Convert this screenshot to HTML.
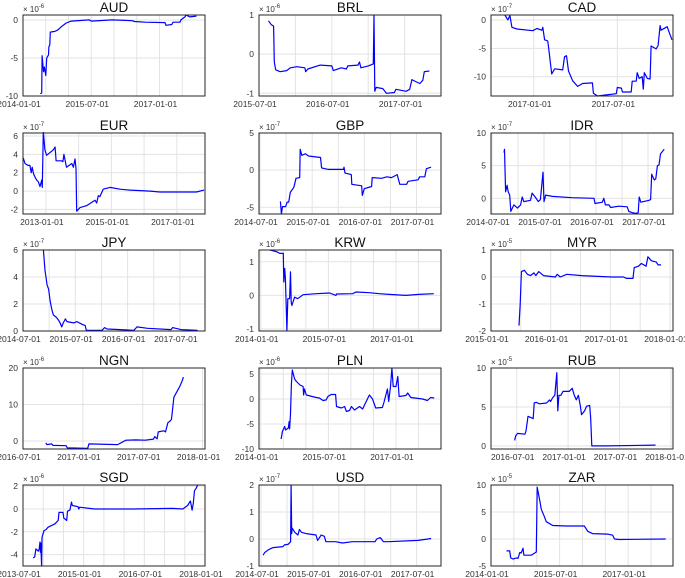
<!DOCTYPE html>
<html><head><meta charset="utf-8">
<style>
html,body{margin:0;padding:0;background:#fff;}
svg{display:block;font-family:"Liberation Sans",sans-serif;}
</style></head>
<body>
<svg id="fig" width="685" height="578" viewBox="0 0 685 578" xmlns="http://www.w3.org/2000/svg"></svg>
<script>
// ---- data (decimal years, values in units of 10^exp) ----
const audX=[2014.38,2014.41,2014.42,2014.45,2014.47,2014.50,2014.52,2014.56,2014.57,2014.59,2014.60,2014.70,2014.77,2014.84,2014.95,2015.06,2015.46,2015.50,2015.96,2016.40,2016.45,2016.69,2017.12,2017.14,2017.27,2017.30,2017.45,2017.47,2017.56,2017.58,2017.67,2017.81];
const audY=[-9.7,-9.6,-4.7,-6.8,-6.2,-7.3,-5.0,-4.6,-3.5,-3.3,-1.6,-1.5,-1.3,-0.9,-0.4,-0.15,0.0,-0.15,0.0,-0.1,-0.2,-0.3,-0.35,-0.7,-0.6,-0.3,-0.3,0.0,0.4,0.65,0.4,0.5];
const brlX=[2015.63,2015.65,2015.67,2015.70,2015.71,2015.73,2015.79,2015.88,2015.93,2016.02,2016.13,2016.14,2016.17,2016.34,2016.50,2016.52,2016.63,2016.70,2016.72,2016.86,2016.88,2016.90,2017.00,2017.07,2017.08,2017.09,2017.11,2017.20,2017.25,2017.36,2017.38,2017.52,2017.57,2017.60,2017.65,2017.71,2017.75,2017.77,2017.84];
const brlY=[0.85,0.8,0.75,0.72,-0.2,-0.4,-0.45,-0.42,-0.35,-0.32,-0.35,-0.45,-0.38,-0.28,-0.3,-0.42,-0.35,-0.38,-0.3,-0.28,-0.2,-0.35,-0.3,-0.25,1.0,-0.95,-0.85,-0.88,-1.0,-0.98,-0.9,-0.95,-0.9,-0.65,-0.7,-0.75,-0.67,-0.45,-0.43];
const cadX=[2016.827,2016.845,2016.857,2016.869,2016.899,2016.994,2017.018,2017.048,2017.054,2017.065,2017.083,2017.089,2017.107,2017.125,2017.173,2017.184,2017.196,2017.208,2017.232,2017.262,2017.292,2017.351,2017.357,2017.381,2017.435,2017.494,2017.500,2017.524,2017.530,2017.583,2017.589,2017.613,2017.619,2017.631,2017.649,2017.655,2017.661,2017.679,2017.696,2017.702,2017.732,2017.744,2017.756,2017.762,2017.798,2017.810,2017.827];
const cadY=[0.87,0,0.8,-1.3,-1.6,-1.9,-1.5,-1.8,-1.3,-3.5,-3.7,-5,-9.5,-8.6,-8.8,-6.5,-6.3,-9,-10.7,-11.7,-11.2,-11.1,-12.9,-13.4,-13.2,-13,-11.9,-12,-12.7,-12.7,-10.8,-10.8,-9.3,-10.3,-10,-12.2,-9.3,-10.3,-10.4,-4.6,-5.1,-4.5,-1,-1.8,-1.2,-2.2,-3.5];
const eurX=[2012.31,2012.36,2012.45,2012.51,2012.55,2012.58,2012.62,2012.67,2012.72,2012.77,2012.82,2012.87,2012.89,2012.92,2012.97,2013.02,2013.23,2013.28,2013.31,2013.48,2013.52,2013.55,2013.63,2013.79,2013.84,2013.89,2013.92,2013.94,2014.04,2014.24,2014.50,2014.55,2014.60,2014.65,2014.75,2014.96,2015.26,2015.57,2016.18,2016.48,2017.19,2017.60,2017.83];
const eurY=[3.6,3.0,2.8,2.8,2.0,2.6,1.9,1.5,1.2,1.0,0.5,1.2,0.4,6.5,4.5,3.9,4.5,4.8,3.3,3.3,3.2,4.0,2.6,3.0,2.6,3.5,2.5,-2.2,-1.8,-1.6,-1.0,-1.3,-0.5,-0.6,0.2,0.4,0.2,0.1,0.0,-0.1,-0.1,-0.1,0.1];
const gbpX=[2014.89,2014.91,2014.93,2014.99,2015.02,2015.05,2015.08,2015.15,2015.19,2015.26,2015.27,2015.30,2015.37,2015.43,2015.66,2015.68,2015.81,2016.10,2016.11,2016.13,2016.25,2016.26,2016.45,2016.46,2016.50,2016.64,2016.65,2016.83,2016.93,2017.02,2017.13,2017.18,2017.31,2017.34,2017.53,2017.56,2017.66,2017.69,2017.78];
const gbpY=[-4.2,-5.9,-4.9,-4.9,-4.3,-4.3,-3.0,-2.3,-1.1,-1.0,2.8,2.0,2.2,1.9,1.7,0.3,0.1,0.1,0.4,-0.4,-0.6,-1.9,-2.1,-3.4,-2.5,-2.2,-1.0,-1.1,-0.9,-1.0,-0.6,-1.9,-1.9,-1.5,-1.3,-0.9,-0.9,0.2,0.4];
const idrX=[2014.73,2014.74,2014.76,2014.79,2014.81,2014.84,2014.86,2014.92,2014.99,2015.05,2015.08,2015.11,2015.24,2015.27,2015.33,2015.39,2015.43,2015.48,2015.50,2015.53,2015.66,2016.04,2016.46,2016.48,2016.62,2016.65,2016.68,2016.75,2016.78,2016.94,2017.10,2017.13,2017.20,2017.26,2017.31,2017.33,2017.36,2017.52,2017.55,2017.57,2017.62,2017.65,2017.68,2017.71,2017.74,2017.81];
const idrY=[7.0,7.5,1.0,2.0,1.0,0.5,-2.0,-1.0,-1.5,-1.0,0.2,-0.5,-0.3,0.8,0.2,-0.5,-0.2,4.0,-0.5,0.5,0.3,0.1,0.0,-0.8,-0.6,0.0,-1.0,-1.0,-1.4,-1.2,-1.3,-2.0,-2.2,-2.3,-2.2,0.2,-0.6,-0.3,-0.2,3.7,2.8,3.0,5.0,5.1,6.8,7.5];
const jpyX=[2014.89,2014.92,2014.96,2014.99,2015.02,2015.05,2015.08,2015.14,2015.18,2015.21,2015.24,2015.27,2015.31,2015.34,2015.47,2015.53,2015.63,2015.69,2015.71,2016.01,2016.06,2016.11,2016.62,2016.68,2016.88,2017.33,2017.36,2017.52,2017.84];
const jpyY=[6.0,4.5,3.4,3.1,2.2,1.6,1.2,1.0,0.8,0.6,0.3,0.6,0.9,0.7,0.6,0.7,0.5,0.4,0.05,0.05,0.25,0.15,0.05,0.3,0.2,0.1,0.25,0.1,0.05];
const krwX=[2014.20,2014.35,2014.42,2014.50,2014.51,2014.53,2014.545,2014.57,2014.58,2014.60,2014.64,2014.66,2014.675,2014.69,2014.75,2014.82,2014.94,2015.23,2015.53,2015.67,2015.68,2016.04,2016.11,2016.41,2016.63,2016.85,2017.22,2017.51,2017.84];
const krwY=[1.35,1.3,1.25,1.25,0.4,0.8,0.5,-0.6,-1.06,-0.1,-0.1,0.7,-0.2,-0.3,-0.05,-0.1,0.02,0.05,0.07,0.0,0.04,0.05,0.1,0.08,0.05,0.03,0.0,0.03,0.05];
const myrX=[2015.47,2015.49,2015.51,2015.56,2015.61,2015.66,2015.72,2015.75,2015.80,2015.88,2016.08,2016.11,2016.16,2016.27,2016.52,2017.02,2017.22,2017.27,2017.38,2017.40,2017.47,2017.52,2017.60,2017.63,2017.69,2017.77,2017.80,2017.85];
const myrY=[-1.8,-1.0,0.2,0.25,0.1,0.05,0.15,0.05,0.2,0.05,0.0,0.1,0.0,0.1,0.05,0.0,0.0,-0.05,-0.05,0.35,0.4,0.5,0.4,0.75,0.6,0.55,0.45,0.45];
const ngnX=[2016.69,2016.70,2016.74,2016.75,2016.86,2016.87,2017.04,2017.05,2017.29,2017.36,2017.44,2017.52,2017.59,2017.60,2017.62,2017.63,2017.675,2017.69,2017.71,2017.73,2017.74,2017.76,2017.785,2017.81,2017.83,2017.84];
const ngnY=[-0.5,-1.0,-0.8,-1.2,-1.3,-1.9,-2.0,-0.8,-1.0,0.2,0.3,0.2,0.5,1.2,0.6,2.5,2.8,2.5,5.0,5.5,6.0,12,13.5,15,16.5,17.5];
const plnX=[2014.45,2014.48,2014.53,2014.55,2014.61,2014.63,2014.64,2014.66,2014.68,2014.70,2014.75,2014.79,2014.87,2014.94,2014.95,2014.97,2015.01,2015.23,2015.30,2015.38,2015.45,2015.49,2015.56,2015.66,2015.68,2015.79,2015.86,2015.90,2015.97,2016.01,2016.08,2016.19,2016.26,2016.34,2016.41,2016.48,2016.55,2016.70,2016.74,2016.81,2016.84,2016.88,2016.91,2016.94,2017.00,2017.04,2017.07,2017.22,2017.26,2017.33,2017.59,2017.70,2017.77,2017.85];
const plnY=[-8,-6.5,-5.5,-6.2,-5.8,-4.5,-6,-3,3,5.8,4,3.5,2.8,2.5,0.8,2.0,0.8,0.3,0.2,-0.3,-0.2,0.5,0.9,0.9,-1.5,-1.8,-1.5,-2.5,-2.3,-1.5,-2.2,-1.5,-2.0,-0.5,0.8,0,-1.8,-1.7,-0.5,2.0,-0.5,2.5,6.2,2.5,2.5,4.5,0.5,0.7,1.2,0.3,0.0,-0.3,0.3,0.2];
const rubX=[2016.48,2016.49,2016.51,2016.58,2016.59,2016.61,2016.66,2016.67,2016.69,2016.72,2016.79,2016.82,2016.83,2016.85,2016.87,2016.89,2016.90,2016.91,2016.93,2016.95,2017.01,2017.04,2017.06,2017.08,2017.10,2017.12,2017.13,2017.16,2017.18,2017.21,2017.22,2017.23,2017.37,2017.85];
const rubY=[0.7,1.3,1.6,1.5,1.9,3.8,3.5,5.5,5.6,5.4,5.5,5.9,5.7,6.2,6.5,9.4,4.5,6.5,6.5,7.0,7.0,7.4,6.5,5.9,6.5,5.0,4.0,4.5,5.1,5.2,3.5,0.0,0.0,0.1];
const sgdX=[2013.75,2013.79,2013.82,2013.88,2013.90,2013.92,2013.93,2013.94,2013.96,2013.97,2014.02,2014.07,2014.12,2014.29,2014.37,2014.39,2014.49,2014.51,2014.58,2014.60,2014.66,2014.70,2014.72,2014.86,2014.88,2014.90,2015.27,2016.22,2017.20,2017.45,2017.57,2017.64,2017.68,2017.71,2017.74,2017.78,2017.82];
const sgdY=[-4.3,-4.2,-3.5,-3.7,-3.5,-2.9,-3.8,-3.0,-5.0,-2.5,-1.9,-1.8,-1.6,-1.3,-1.0,-0.3,-0.3,-0.8,-1.0,-0.2,-0.1,0.6,0.3,0.2,0.0,0.15,0.0,0.0,0.05,0.0,0.3,0.7,-0.1,0.5,1.6,1.8,2.1];
const usdX=[2014.54,2014.57,2014.64,2014.73,2014.92,2014.95,2015.02,2015.07,2015.08,2015.09,2015.10,2015.15,2015.21,2015.24,2015.28,2015.37,2015.56,2015.59,2015.66,2015.72,2015.75,2015.94,2016.07,2016.26,2016.70,2016.73,2016.80,2016.86,2016.96,2017.53,2017.72,2017.78];
const usdY=[-0.6,-0.5,-0.4,-0.32,-0.28,-0.22,-0.2,-0.1,2.0,0.2,0.4,0.25,0.15,0.35,0.25,0.2,0.15,-0.05,0.15,0.1,-0.1,-0.1,-0.15,-0.1,-0.1,0.0,0.05,-0.1,-0.1,-0.05,0.0,0.02];
const zarX=[2014.34,2014.41,2014.43,2014.48,2014.56,2014.59,2014.63,2014.66,2014.70,2014.72,2014.88,2014.99,2015.01,2015.07,2015.10,2015.15,2015.21,2015.35,2015.65,2016.04,2016.12,2016.22,2016.55,2016.66,2016.70,2016.80,2017.82];
const zarY=[-2.2,-2.2,-3.5,-3.7,-3.5,-3.6,-2.5,-2.6,-1.7,-3.0,-3.0,-2.4,9.6,7.0,5.5,4.5,3.2,2.5,2.4,2.4,1.4,1.0,0.9,0.7,0.0,-0.1,0.0];

// ---- panel definitions ----
const panels=[
 {n:'AUD',c:0,r:0,x:audX,y:audY,xr:[2014.0,2018.0],yr:[-10,0.65],yt:[-10,-5,0],xl:[2014.0,2015.5,2017.0],g:0.5,e:'-6'},
 {n:'BRL',c:1,r:0,x:brlX,y:brlY,xr:[2015.5,2018.0],yr:[-1.07,1.0],yt:[-1,0,1],xl:[2015.5,2016.5,2017.5],g:0.5,e:'-6'},
 {n:'CAD',c:2,r:0,x:cadX,y:cadY,xr:[2016.744,2017.833],yr:[-13.4,0.87],yt:[-10,-5,0],xl:[2017.0,2017.5],g:0.5,e:'-7'},
 {n:'EUR',c:0,r:1,x:eurX,y:eurY,xr:[2012.30,2017.86],yr:[-2.5,6.33],yt:[-2,0,2,4,6],xl:[2013.0,2015.0,2017.0],g:1,e:'-7'},
 {n:'GBP',c:1,r:1,x:gbpX,y:gbpY,xr:[2014.48,2017.97],yr:[-5.9,5.0],yt:[-5,0,5],xl:[2014.5,2015.5,2016.5,2017.5],g:0.5,e:'-7'},
 {n:'IDR',c:2,r:1,x:idrX,y:idrY,xr:[2014.48,2017.98],yr:[-2.4,10],yt:[0,5,10],xl:[2014.5,2015.5,2016.5,2017.5],g:0.5,e:'-7'},
 {n:'JPY',c:0,r:2,x:jpyX,y:jpyY,xr:[2014.5,2017.98],yr:[0,6],yt:[0,2,4,6],xl:[2014.5,2015.5,2016.5,2017.5],g:0.5,e:'-7'},
 {n:'KRW',c:1,r:2,x:krwX,y:krwY,xr:[2013.96,2018.0],yr:[-1.06,1.35],yt:[-1,0,1],xl:[2014.0,2015.5,2017.0],g:0.5,e:'-6'},
 {n:'MYR',c:2,r:2,x:myrX,y:myrY,xr:[2015.0,2018.05],yr:[-2,1],yt:[-2,-1,0,1],xl:[2015.0,2016.0,2017.0,2018.0],g:0.5,e:'-5'},
 {n:'NGN',c:0,r:3,x:ngnX,y:ngnY,xr:[2016.5,2018.02],yr:[-2.2,20],yt:[0,10,20],xl:[2016.5,2017.0,2017.5,2018.0],g:0.5,e:'-6'},
 {n:'PLN',c:1,r:3,x:plnX,y:plnY,xr:[2013.96,2018.0],yr:[-10,6.2],yt:[-10,-5,0,5],xl:[2014.0,2015.5,2017.0],g:0.5,e:'-6'},
 {n:'RUB',c:2,r:3,x:rubX,y:rubY,xr:[2016.25,2018.02],yr:[-0.4,10],yt:[0,5,10],xl:[2016.5,2017.0,2017.5,2018.0],g:0.5,e:'-5'},
 {n:'SGD',c:0,r:4,x:sgdX,y:sgdY,xr:[2013.5,2018.0],yr:[-5.0,2.1],yt:[-4,-2,0,2],xl:[2013.5,2015.0,2016.5,2018.0],g:0.5,e:'-6'},
 {n:'USD',c:1,r:4,x:usdX,y:usdY,xr:[2014.46,2017.97],yr:[-1,2],yt:[-1,0,1,2],xl:[2014.5,2015.5,2016.5,2017.5],g:0.5,e:'-7'},
 {n:'ZAR',c:2,r:4,x:zarX,y:zarY,xr:[2014.0,2017.98],yr:[-5,10],yt:[-5,0,5,10],xl:[2014.0,2015.5,2017.0],g:0.5,e:'-5'}
];
const colL=[23,259,491], rowT=[15,133,250,368,485], W=182, H=81;
const NS='http://www.w3.org/2000/svg';
const fig=document.getElementById('fig');
function mk(tag,attrs,parent){const e=document.createElementNS(NS,tag);for(const k in attrs)e.setAttribute(k,attrs[k]);parent.appendChild(e);return e;}
function dateLabel(v){const y=Math.floor(v+1e-6);const m=(v-y)>0.25?'07':'01';return y+'-'+m+'-01';}

panels.forEach(p=>{
  const L=colL[p.c], T=rowT[p.r];
  const sx=v=>L+(v-p.xr[0])/(p.xr[1]-p.xr[0])*W;
  const sy=v=>T+H-(v-p.yr[0])/(p.yr[1]-p.yr[0])*H;
  const g=mk('g',{},fig);
  
  
  const gs=Math.ceil(p.xr[0]/p.g-1e-6)*p.g;
  for(let v=gs; v<=p.xr[1]+1e-6; v+=p.g){
    const gl=mk('line',{x1:sx(v),x2:sx(v),y1:T,y2:T+H,stroke:'#e3e3e3','stroke-width':1},g);
    
    
  }
  p.yt.forEach(v=>{
    const gl=mk('line',{x1:L,x2:L+W,y1:sy(v),y2:sy(v),stroke:'#e3e3e3','stroke-width':1},g);
    
    
    const t=mk('text',{x:L-5,y:sy(v)+3,'font-size':8.5,fill:'#333','text-anchor':'end'},g);
    t.textContent=v;
    
    
  });
  p.xl.forEach(v=>{
    const t=mk('text',{x:sx(v)-4,y:T+H+11,'font-size':8.5,fill:'#333','text-anchor':'middle'},g);
    t.textContent=dateLabel(v);
    
    
  });
  const pts=p.x.map((xv,i)=>sx(xv).toFixed(1)+','+sy(p.y[i]).toFixed(1)).join(' ');
  const cp=mk('clipPath',{id:'cp'+p.n},g);
  mk('rect',{x:L,y:T-1,width:W,height:H+2},cp);
  const line=mk('polyline',{points:pts,fill:'none',stroke:'#0000ff','stroke-width':1.2,'clip-path':'url(#cp'+p.n+')','stroke-linejoin':'round'},g);
  
  
  const fr=mk('rect',{x:L,y:T,width:W,height:H,fill:'none',stroke:'#262626','stroke-width':1},g);
  
  
  const tt=mk('text',{x:L+W/2,y:T-3,'font-size':13.5,fill:'#111','text-anchor':'middle'},g);
  tt.textContent=p.n;
  
  
  const ex=mk('text',{x:L,y:T-3,'font-size':8,fill:'#333'},g);
  
  
  ex.textContent='\u00d7 10';
  const sup=mk('tspan',{dy:-4,'font-size':6},ex);
  sup.textContent=p.e;
});
</script>
</body></html>
